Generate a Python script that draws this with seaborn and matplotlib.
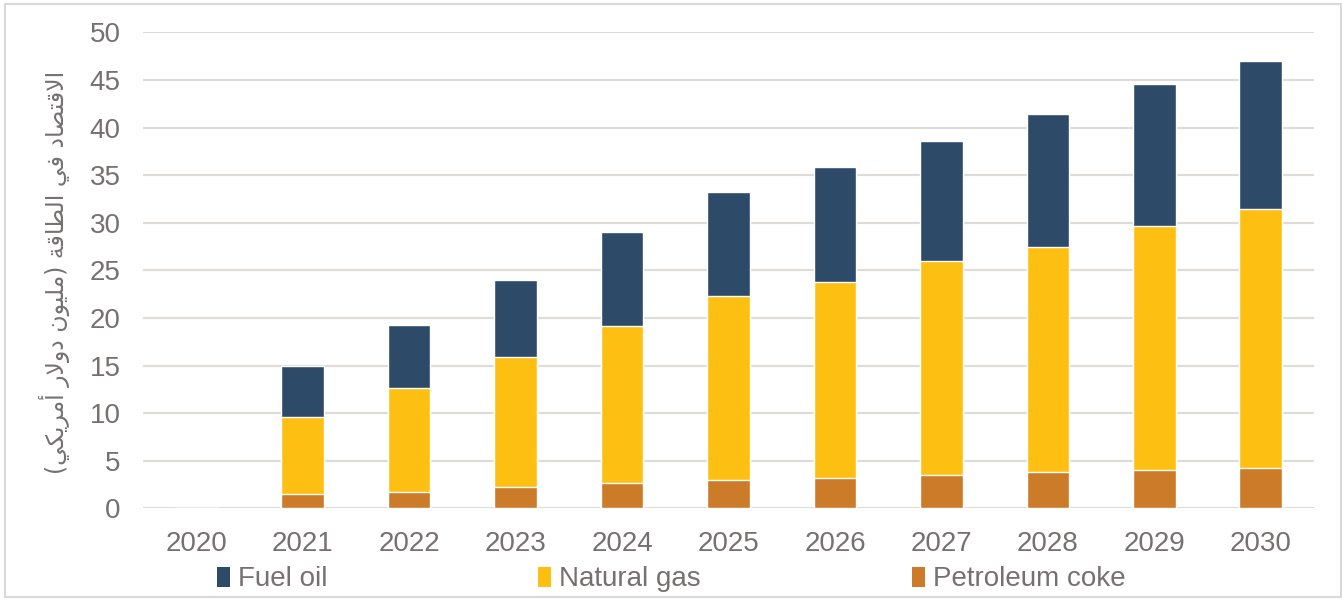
import matplotlib
matplotlib.use("Agg")
import matplotlib.pyplot as plt
from matplotlib.patches import Patch, Rectangle
import numpy as np
import pandas as pd
import seaborn as sns

# ---- data (million US$) ----
years = ["2020", "2021", "2022", "2023", "2024", "2025",
         "2026", "2027", "2028", "2029", "2030"]
petroleum_coke = [0.0, 1.5, 1.7, 2.2, 2.7, 3.0, 3.2, 3.5, 3.8, 4.0, 4.2]
natural_gas = [0.0, 8.1, 10.9, 13.7, 16.4, 19.3, 20.6, 22.5, 23.7, 25.7, 27.2]
fuel_oil = [0.0, 5.3, 6.7, 8.1, 9.9, 10.9, 12.1, 12.6, 13.9, 14.9, 15.6]

series_names = ["Fuel oil", "Natural gas", "Petroleum coke"]
y_label = "الاقتصاد في الطاقة (مليون دولار أمريكي)"

colors = {"Fuel oil": "#2D4B69", "Natural gas": "#FDC012", "Petroleum coke": "#CC7B29"}
text_color = "#767171"
grid_color = "#DEDBD9"

# ---- minimal Arabic shaping (contextual forms + visual order) ----
FORMS = {  # isolated, final, initial, medial
    "ا": ("\uFE8D", "\uFE8E", None, None),
    "أ": ("\uFE83", "\uFE84", None, None),
    "د": ("\uFEA9", "\uFEAA", None, None),
    "ر": ("\uFEAD", "\uFEAE", None, None),
    "و": ("\uFEED", "\uFEEE", None, None),
    "ة": ("\uFE93", "\uFE94", None, None),
    "ل": ("\uFEDD", "\uFEDE", "\uFEDF", "\uFEE0"),
    "ق": ("\uFED5", "\uFED6", "\uFED7", "\uFED8"),
    "ت": ("\uFE95", "\uFE96", "\uFE97", "\uFE98"),
    "ص": ("\uFEB9", "\uFEBA", "\uFEBB", "\uFEBC"),
    "ف": ("\uFED1", "\uFED2", "\uFED3", "\uFED4"),
    "ي": ("\uFEF1", "\uFEF2", "\uFEF3", "\uFEF4"),
    "ط": ("\uFEC1", "\uFEC2", "\uFEC3", "\uFEC4"),
    "م": ("\uFEE1", "\uFEE2", "\uFEE3", "\uFEE4"),
    "ن": ("\uFEE5", "\uFEE6", "\uFEE7", "\uFEE8"),
    "ك": ("\uFED9", "\uFEDA", "\uFEDB", "\uFEDC"),
}
LAM_ALEF = {"ا": ("\uFEFB", "\uFEFC", None, None),
            "أ": ("\uFEF7", "\uFEF8", None, None)}


def shape_arabic(text):
    units = []
    i = 0
    while i < len(text):
        c = text[i]
        if c == "ل" and i + 1 < len(text) and text[i + 1] in LAM_ALEF:
            units.append((c, LAM_ALEF[text[i + 1]]))
            i += 2
        else:
            units.append((c, FORMS.get(c)))
            i += 1
    out = []
    for j, (c, f) in enumerate(units):
        if f is None:
            out.append(c)
            continue
        prev = units[j - 1][1] if j > 0 else None
        nxt = units[j + 1][1] if j + 1 < len(units) else None
        join_prev = prev is not None and prev[2] is not None
        join_next = f[2] is not None and nxt is not None
        if join_prev and join_next:
            out.append(f[3])
        elif join_prev:
            out.append(f[1])
        elif join_next:
            out.append(f[2])
        else:
            out.append(f[0])
    visual = "".join(reversed(out))
    return visual.translate(str.maketrans("()", ")("))


# ---- figure ----
sns.set_theme(style="white")
plt.rcParams["font.family"] = ["Liberation Sans", "DejaVu Sans"]

fig = plt.figure(figsize=(13.42, 6.0), dpi=100)
ax = fig.add_axes([143 / 1342, 1 - 508.3 / 600, (1314 - 143) / 1342, (508.3 - 32.3) / 600])

df = pd.DataFrame({"year": years,
                   "Petroleum coke": petroleum_coke,
                   "Natural gas": natural_gas,
                   "Fuel oil": fuel_oil})
df["coke_top"] = df["Petroleum coke"]
df["gas_top"] = df["coke_top"] + df["Natural gas"]
df["oil_top"] = df["gas_top"] + df["Fuel oil"]

# stacked columns drawn as overlapping cumulative layers
for col, name in [("oil_top", "Fuel oil"), ("gas_top", "Natural gas"), ("coke_top", "Petroleum coke")]:
    sns.barplot(data=df, x="year", y=col, color=colors[name], width=0.4,
                saturation=1, ax=ax, zorder=3)

ax.set_ylim(0, 50)
ax.set_xlim(-0.5, len(years) - 0.5)
ax.set_yticks(np.arange(0, 51, 5))
ax.yaxis.grid(True, color=grid_color, linewidth=1.6, zorder=0)
ax.set_axisbelow(True)
for s in ax.spines.values():
    s.set_visible(False)
ax.set_xlabel("")
ax.set_ylabel("")
ax.tick_params(axis="both", length=0, labelsize=20, labelcolor=text_color)
ax.tick_params(axis="x", pad=16)
ax.tick_params(axis="y", pad=16)

fig.text(55 / 1342, 1 - 272 / 600, shape_arabic(y_label), rotation=90,
         ha="center", va="center", fontsize=17, color=text_color,
         family=["DejaVu Sans"])

handles = [Patch(facecolor=colors[n], edgecolor="none") for n in series_names]
leg = fig.legend(handles, series_names, ncol=3, loc="center left",
                 bbox_to_anchor=(217 / 1342, 1 - 579.5 / 600), frameon=False,
                 fontsize=20, labelcolor=text_color, handlelength=0.45,
                 handleheight=0.7, handletextpad=0.3, columnspacing=7.6,
                 borderaxespad=0, borderpad=0)

# light frame around the chart area
fig.patches.append(Rectangle((5 / 1342, 3 / 600), 1335.5 / 1342, 593 / 600,
                             transform=fig.transFigure, fill=False,
                             edgecolor="#D9D9D9", linewidth=1.5))

fig.savefig("out.png", dpi=100)
